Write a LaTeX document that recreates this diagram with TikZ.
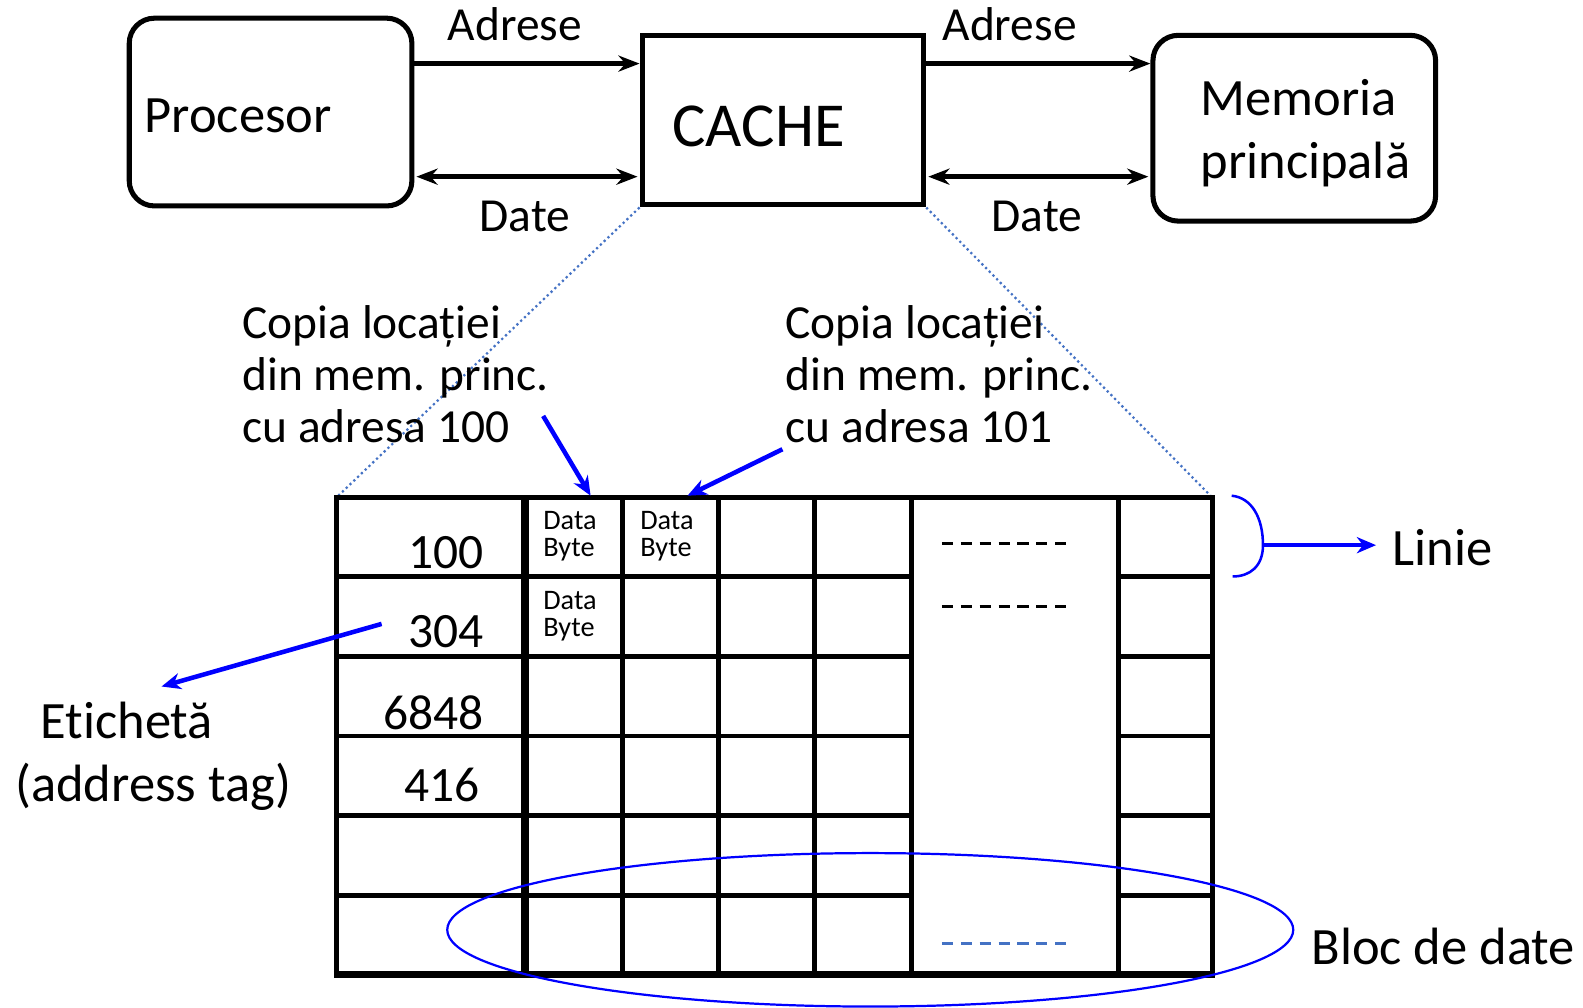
\documentclass[tikz,border=0pt]{standalone}
\usepackage{fontspec}
\setmainfont{Carlito}[Ligatures=NoCommon]
\usetikzlibrary{arrows.meta,shapes.geometric}
\definecolor{dotblue}{RGB}{68,114,196}
\definecolor{pblue}{RGB}{0,0,255}
\begin{document}
\begin{tikzpicture}[x=1pt,y=-1pt,
  box/.style={draw,line width=5pt,inner sep=0pt},
  arr/.style={line width=5pt,-{Stealth[length=21pt,width=16pt,inset=7pt]}},
  darr/.style={line width=5pt,{Stealth[length=21pt,width=16pt,inset=7pt]}-{Stealth[length=21pt,width=16pt,inset=7pt]}},
  barr/.style={pblue,line width=4.5pt,-{Stealth[length=19pt,width=16pt,inset=6pt]}},
  dotl/.style={dotblue,line width=2.2pt,dash pattern=on 2.2pt off 3pt},
  grid/.style={line width=4.8pt},
  dashrow/.style={line width=3pt,dash pattern=on 11pt off 7.7pt},
  big/.style={font=\fontsize{52}{62}\selectfont,inner sep=0pt},
  mid/.style={font=\fontsize{47}{51.5}\selectfont,inner sep=0pt},
  num/.style={font=\fontsize{49}{55}\selectfont,inner sep=0pt},
  db/.style={font=\fontsize{28}{27}\selectfont,inner sep=0pt,align=left},
]
\useasboundingbox (0,0) rectangle (1568,998);
% top boxes
\node[box,rounded corners=25pt,minimum width=280pt,minimum height=186pt] (proc) at (268,111) {};
\node[box,minimum width=279pt,minimum height=168pt] (cache) at (775.5,119) {};
\node[box,rounded corners=25pt,minimum width=280pt,minimum height=184pt] (mem) at (1282,127) {};
\node[big,anchor=west] (proct) at (143,115) {Procesor};
\node[font=\fontsize{62}{70}\selectfont,inner sep=0pt,anchor=west] (cachet) at (666,125) {CACHE};
\node[big,anchor=west,align=left] (memt) at (1189,132) {Memoria\\principală};
% arrows
\draw[arr] (proc.east |- 0,63) -- (cache.west |- 0,63);
\draw[darr] ([xshift=2pt]proc.east |- 0,175) -- ([xshift=-2pt]cache.west |- 0,175);
\draw[arr] (cache.east |- 0,63) -- (mem.west |- 0,63);
\draw[darr] ([xshift=2pt]cache.east |- 0,175) -- ([xshift=-2pt]mem.west |- 0,175);
\node[mid] (ad1) at (510,24) {Adrese};
\node[mid] (ad2) at (1000,24) {Adrese};
\node[mid] (dt1) at (520,214) {Date};
\node[mid] (dt2) at (1027,214) {Date};
% table
\coordinate (tl) at (333,493);
\coordinate (tr) at (1201,493);
\draw[dotl] (cache.south west) -- (tl);
\draw[dotl] (cache.south east) -- (tr);
\foreach \x in {617,712,807,903,1108} \draw[grid] (\x,493) -- (\x,965);
\foreach \y in {571,650,729,808,887} {
  \draw[grid] (333,\y) -- (903,\y);
  \draw[grid] (1108,\y) -- (1201,\y);
}
\draw[grid] (tl) rectangle (1201,965);
\draw[line width=8.5pt] (520,493) -- (520,965);
\draw[line width=6.5pt] (330.6,965) -- (1203.4,965);
\draw[dashrow] (933,538) -- (1056,538);
\draw[dashrow] (933,601) -- (1056,601);
\draw[dashrow,dotblue] (933,935) -- (1056,935);
\node[num,anchor=east] (t1) at (479,547) {100};
\node[num,anchor=east] (t2) at (479,626) {304};
\node[num,anchor=east] (t3) at (479,706) {6848};
\node[num,anchor=east] (t4) at (475,778) {416};
\node[db,anchor=west] (d1) at (538,531) {Data\\Byte};
\node[db,anchor=west] (d2) at (634,531) {Data\\Byte};
\node[db,anchor=west] (d3) at (538,610) {Data\\Byte};
% annotations
\node[mid,anchor=west,align=left] (c1) at (240,371) {Copia locației\\din mem. princ.\\cu adresa 100};
\node[mid,anchor=west,align=left] (c2) at (778,371) {Copia locației\\din mem. princ.\\cu adresa 101};
\coordinate (c1s) at (538,412);
\coordinate (c1e) at (585,491);
\coordinate (c2s) at (775,445);
\coordinate (c2e) at (681,491);
\draw[barr] (c1s) -- (c1e);
\draw[barr] (c2s) -- (c2e);
\node[big,align=left,anchor=west] (et) at (15,749) {\hspace*{25pt}Etichetă\\(address tag)};
\coordinate (e1s) at (378,618);
\coordinate (e1e) at (160,680);
\draw[barr] (e1s) -- (e1e);
% Linie
\coordinate (la) at (1220,491);
\coordinate (lb) at (1251,540);
\coordinate (lc) at (1221,571);
\draw[pblue,line width=2.5pt] (la) .. controls (1240,493) and (1251,513) .. (lb) .. controls (1251,561) and (1238,571) .. (lc);
\node[big,anchor=west] (linie) at (1379,542) {Linie};
\draw[barr,shorten >=16pt] (lb) -- (lb -| linie.west);
% Bloc
\node[draw=pblue,line width=2.2pt,ellipse,inner sep=0pt,minimum width=838pt,minimum height=152pt] (bloc) at (862,921) {};
\node[big,anchor=west] (bloct) at (1299,937) {Bloc de date};
\end{tikzpicture}
\end{document}
